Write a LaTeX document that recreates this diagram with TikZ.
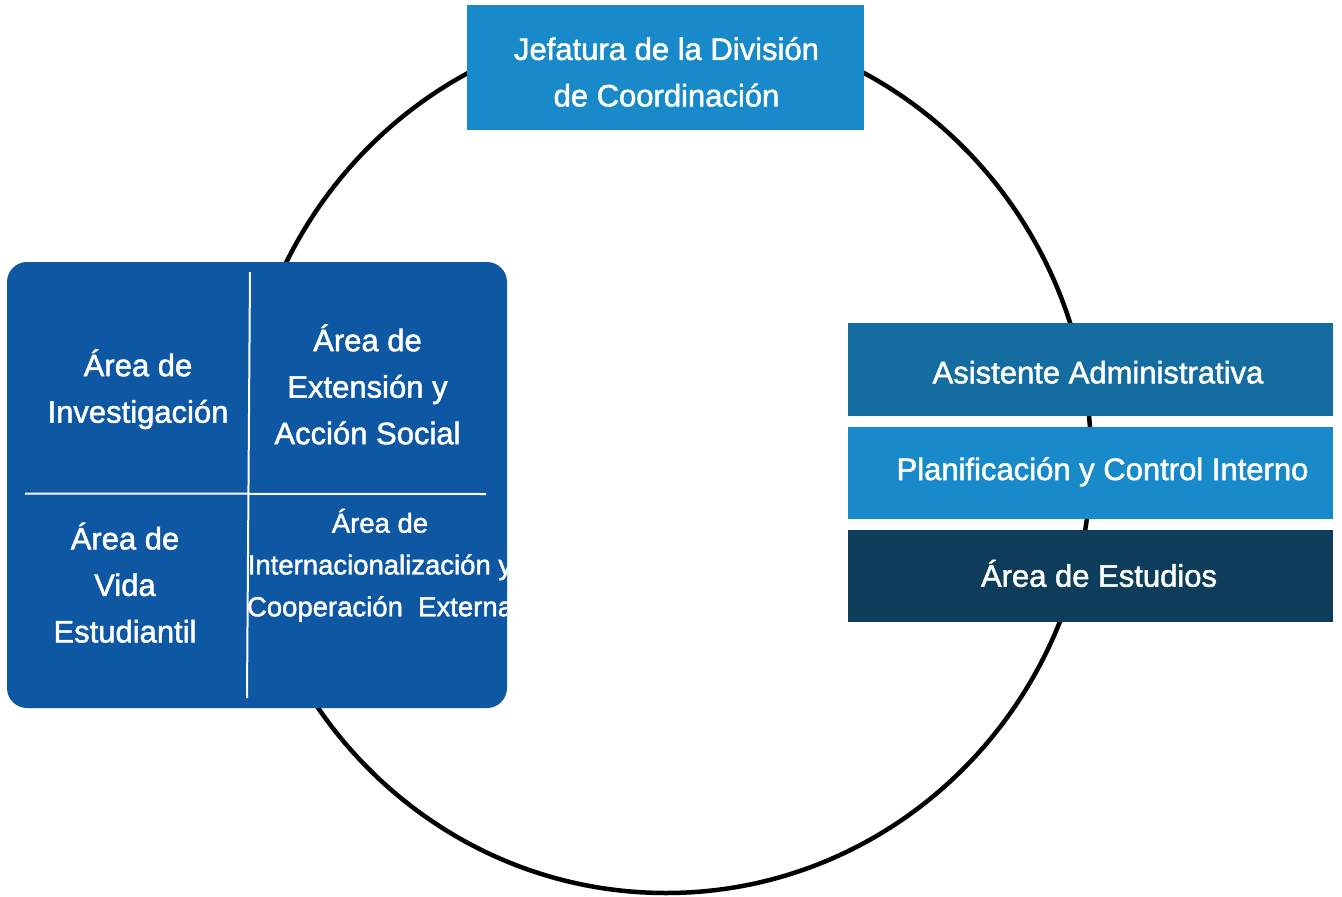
\documentclass[tikz,border=0pt]{standalone}
\usepackage{fontspec}
\setmainfont{Liberation Sans}
\newfontfamily\medfont[FakeBold=1.6]{Liberation Sans}
\definecolor{lightblue}{RGB}{24,137,201}
\definecolor{midblue}{RGB}{21,108,160}
\definecolor{darkblue}{RGB}{14,61,92}
\definecolor{royal}{RGB}{14,87,163}
\begin{document}
\begin{tikzpicture}[x=1pt,y=-1pt,
  panel/.style={inner sep=0pt, outer sep=0pt, draw=none},
  lbl/.style={text=white, align=center, inner sep=0pt, font=\medfont\fontsize{31}{46.5}\selectfont},
  small/.style={text=white, align=center, inner sep=0pt, font=\medfont\fontsize{27.5}{41.8}\selectfont},
  divider/.style={draw=white, line width=2pt},
  ring/.style={draw=black, line width=4.5pt}]
\useasboundingbox (0,0) rectangle (1342,897);
\fill[white] (0,0) rectangle (1342,897);

% ring
\coordinate (c) at (666,458);
\draw[ring] (c) ellipse [x radius=425, y radius=435];

% top box
\node[panel, fill=lightblue, minimum width=397, minimum height=125] (jefbox) at (665.5,67.5) {};
\node[lbl] (jef) at (666.5,71.9) {Jefatura de la División\\de Coordinación};

% right boxes
\node[panel, fill=midblue, minimum width=485, minimum height=93] (asbox) at (1090.5,369.5) {};
\node[panel, fill=lightblue, minimum width=485, minimum height=92] (plbox) at (1090.5,473) {};
\node[panel, fill=darkblue, minimum width=485, minimum height=92] (esbox) at (1090.5,576) {};
\node[lbl, anchor=base] (as) at (1098,383.3) {Asistente Administrativa};
\node[lbl, anchor=base] (pl) at (1102.5,480) {Planificación y Control Interno};
\node[lbl, anchor=base] (es) at (1099,586.7) {Área de Estudios};

% left grid box
\node[panel, fill=royal, rounded corners=20pt, minimum width=500, minimum height=446] (grid) at (257,485) {};
\coordinate (vt) at (250,272);
\coordinate (vb) at (247,698);
\coordinate (hl) at (25,493.5);
\coordinate (hr) at (486,494);
\draw[divider] (vt) -- (vb);
\draw[divider] (hl) -- (hr);

\node[lbl] (inv) at (138,389.2) {Área de\\Investigación};
\node[lbl] (ext) at (367.5,384.4) {Área de\\Extensión y\\Acción Social};
\node[lbl] (vid) at (125,582.6) {Área de\\Vida\\Estudiantil};
\begin{scope}
  \clip[rounded corners=20pt] (7,262) rectangle (507,708);
  \node[small] (int) at (380,565.4) {Área de\\Internacionalización y\\Cooperación\ \ Externa};
\end{scope}
\end{tikzpicture}
\end{document}
